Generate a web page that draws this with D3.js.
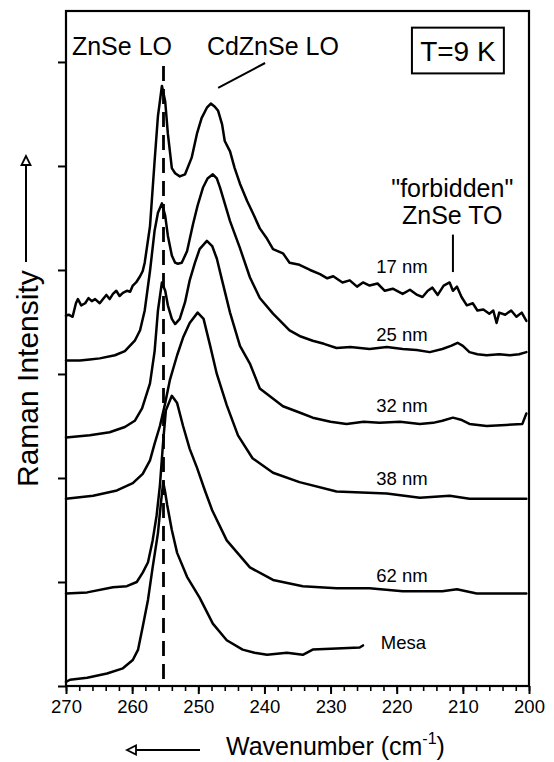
<!DOCTYPE html>
<html><head><meta charset="utf-8">
<script src="https://cdn.jsdelivr.net/npm/d3@7"></script>
<style>
body{margin:0;background:#fff}
svg{display:block;background:#fff}
text{font-family:"Liberation Sans",Arial,Helvetica,sans-serif;fill:#000}
</style>
</head><body>
<svg id="c" width="554" height="762"></svg>
<script>
// ---- data: [wavenumber (cm-1), Raman intensity (arb. units, offset)] ----
const s17 = [[270.0,3.56],[269.6,3.57],[269.0,3.55],[268.5,3.68],[268.2,3.72],[267.7,3.66],[267.1,3.68],[266.6,3.73],[266.1,3.70],[265.6,3.72],[264.9,3.68],[264.4,3.72],[263.9,3.76],[263.4,3.72],[262.9,3.77],[262.4,3.80],[261.9,3.75],[261.4,3.78],[260.8,3.80],[260.3,3.79],[259.9,3.85],[259.4,3.88],[258.8,3.94],[258.4,3.99],[258.1,4.07],[257.3,4.42],[256.6,5.05],[256.1,5.48],[255.5,5.77],[255.0,5.62],[254.6,5.31],[254.0,4.98],[253.5,4.93],[252.8,4.90],[252.0,4.92],[251.0,5.08],[250.2,5.31],[249.5,5.46],[248.7,5.56],[248.1,5.60],[247.5,5.57],[247.0,5.53],[246.4,5.40],[246.0,5.24],[245.2,5.14],[244.5,4.98],[243.7,4.83],[242.6,4.66],[241.7,4.54],[240.7,4.40],[239.6,4.30],[238.7,4.20],[237.2,4.16],[236.2,4.07],[234.7,4.05],[233.1,4.00],[231.6,3.96],[230.5,3.92],[229.6,3.94],[228.2,3.88],[227.1,3.90],[226.0,3.84],[225.1,3.88],[224.1,3.85],[222.9,3.87],[221.8,3.80],[220.6,3.82],[219.1,3.77],[218.0,3.81],[216.9,3.76],[216.1,3.74],[215.3,3.80],[214.6,3.83],[213.8,3.76],[212.9,3.85],[212.0,3.88],[211.5,3.80],[210.9,3.84],[210.2,3.74],[209.4,3.66],[208.5,3.68],[207.8,3.61],[206.9,3.62],[206.0,3.58],[205.4,3.61],[204.9,3.49],[204.5,3.59],[203.6,3.57],[202.7,3.61],[201.9,3.55],[201.1,3.59],[200.4,3.51]];
const s25 = [[270.0,3.13],[267.9,3.13],[266.4,3.14],[264.9,3.15],[262.6,3.18],[261.1,3.22],[259.6,3.32],[258.8,3.42],[258.1,3.61],[257.3,3.99],[256.6,4.38],[256.1,4.55],[255.5,4.64],[255.0,4.52],[254.6,4.33],[254.0,4.14],[253.5,4.07],[253.1,4.06],[252.5,4.07],[251.7,4.18],[250.8,4.44],[250.1,4.62],[249.3,4.79],[248.6,4.88],[247.8,4.92],[247.2,4.88],[246.7,4.79],[246.0,4.64],[245.2,4.47],[243.7,4.21],[242.2,3.93],[240.7,3.73],[238.7,3.58],[236.2,3.42],[234.5,3.36],[232.7,3.32],[231.0,3.29],[229.1,3.25],[227.0,3.26],[224.1,3.24],[221.5,3.26],[219.1,3.24],[217.0,3.23],[215.0,3.21],[213.1,3.24],[211.8,3.27],[210.8,3.30],[210.0,3.27],[209.0,3.21],[207.8,3.19],[206.4,3.18],[204.5,3.19],[202.9,3.18],[201.5,3.19],[200.4,3.21]];
const s32 = [[270.0,2.39],[266.4,2.41],[263.4,2.44],[261.1,2.49],[259.6,2.55],[258.5,2.67],[257.3,2.91],[256.6,3.22],[256.1,3.61],[255.5,3.88],[255.0,3.80],[254.6,3.66],[254.0,3.53],[253.5,3.48],[252.8,3.53],[252.0,3.69],[251.3,3.90],[250.5,4.07],[249.8,4.20],[248.7,4.28],[247.9,4.23],[247.2,4.11],[246.4,3.90],[245.2,3.59],[243.7,3.27],[242.2,3.10],[240.7,2.86],[237.2,2.69],[234.7,2.63],[232.7,2.58],[230.0,2.54],[227.6,2.52],[225.0,2.54],[222.6,2.53],[219.5,2.54],[216.5,2.52],[214.5,2.53],[213.1,2.55],[211.5,2.58],[210.3,2.56],[209.0,2.52],[206.4,2.50],[203.5,2.51],[201.0,2.52],[200.4,2.62]];
const s38 = [[270.0,1.80],[265.9,1.83],[262.3,1.88],[259.9,1.95],[258.4,2.04],[257.3,2.17],[256.6,2.33],[255.8,2.50],[255.0,2.72],[254.3,2.94],[253.2,3.18],[252.3,3.35],[251.3,3.49],[250.1,3.59],[249.2,3.53],[248.2,3.27],[247.2,3.00],[245.7,2.70],[244.0,2.41],[241.8,2.19],[238.7,2.05],[234.7,1.96],[229.1,1.87],[221.5,1.85],[216.5,1.81],[212.0,1.83],[209.0,1.80],[200.4,1.80]];
const s62 = [[270.0,0.89],[266.8,0.90],[262.9,0.95],[260.8,0.96],[259.3,1.00],[258.4,1.09],[257.6,1.19],[256.9,1.40],[256.3,1.64],[255.8,1.93],[255.3,2.36],[254.9,2.65],[254.0,2.79],[253.2,2.72],[252.3,2.50],[251.3,2.28],[250.2,2.10],[249.0,1.88],[247.9,1.69],[245.7,1.40],[242.2,1.14],[238.7,1.02],[234.2,0.96],[229.1,0.94],[224.1,0.94],[219.1,0.91],[213.1,0.91],[210.9,0.93],[207.9,0.89],[200.4,0.89]];
const sMesa = [[270.0,0.04],[269.4,0.06],[266.8,0.08],[263.8,0.12],[261.4,0.17],[259.9,0.25],[259.1,0.35],[258.4,0.57],[257.6,0.83],[256.9,1.14],[256.1,1.47],[255.6,1.79],[255.3,1.96],[255.0,1.86],[254.7,1.74],[254.0,1.50],[253.2,1.28],[251.7,1.05],[249.8,0.85],[247.8,0.60],[245.7,0.44],[243.3,0.35],[241.5,0.32],[239.6,0.30],[236.6,0.32],[234.2,0.30],[232.7,0.35],[229.1,0.36],[225.6,0.37],[225.1,0.39]];
const seriesLabels = ["17 nm","25 nm","32 nm","38 nm","62 nm","Mesa"];
const xTickValues = [270,260,250,240,230,220,210,200];
const xMinorValues = d3.range(270,199,-2);
const yTickValues = [0,1,2,3,4,5,6];
const znseLO = 255.26;
const znseTO = 211.5;

// ---- drawing ----
const svg = d3.select("#c");
const x = d3.scaleLinear().domain([270,200]).range([66,529]);
const y = d3.scaleLinear().domain([0,6.49]).range([686,11]);
const font = '"Liberation Sans",Arial,Helvetica,sans-serif';

// minor ticks
svg.append("g").attr("transform",`translate(0,${y(0)})`)
  .call(d3.axisBottom(x).tickValues(xMinorValues).tickSize(5).tickSizeOuter(0).tickFormat(""))
  .call(g=>g.select(".domain").remove())
  .call(g=>g.selectAll("line").attr("stroke-width",1.6));
// major ticks
const xa = svg.append("g").attr("transform",`translate(0,${y(0)})`)
  .call(d3.axisBottom(x).tickValues(xTickValues).tickSize(8).tickSizeOuter(0).tickFormat(d3.format("d")));
xa.select(".domain").remove();
xa.selectAll("line").attr("stroke-width",2);
xa.selectAll("text").attr("y",27).attr("dy",0).attr("font-size","18.5px").attr("font-family",font).attr("fill","#000");

const ya = svg.append("g").attr("transform",`translate(${x(270)},0)`)
  .call(d3.axisLeft(y).tickValues(yTickValues).tickSize(8).tickSizeOuter(0).tickFormat(""));
ya.select(".domain").remove();
ya.selectAll("line").attr("stroke-width",2);

// frame
svg.append("rect").attr("x",x(270)).attr("y",y(6.49)).attr("width",x(200)-x(270)).attr("height",y(0)-y(6.49))
  .attr("fill","none").attr("stroke","#000").attr("stroke-width",2.2);

// ZnSe LO dashed line
svg.append("line").attr("x1",x(znseLO)).attr("x2",x(znseLO)).attr("y1",y(5.96)).attr("y2",y(0))
  .attr("stroke","#000").attr("stroke-width",2.8).attr("stroke-dasharray","15,8");

// spectra
const line = d3.line().x(d=>x(d[0])).y(d=>y(d[1]));
const allSeries = [s17,s25,s32,s38,s62,sMesa];
svg.append("g").selectAll("path").data(allSeries).join("path")
  .attr("d",line).attr("fill","none").attr("stroke","#000").attr("stroke-width",2.5)
  .attr("stroke-linejoin","round").attr("stroke-linecap","round");

// series labels
const labelPos = [[223.1,3.97],[223.1,3.32],[223.1,2.63],[223.1,1.93],[223.1,1.00],[222.4,0.36]];
svg.append("g").selectAll("text").data(seriesLabels).join("text")
  .attr("x",(d,i)=>x(labelPos[i][0])).attr("y",(d,i)=>y(labelPos[i][1]))
  .attr("font-size","18.5px").text(d=>d);

// annotations
svg.append("text").attr("x",x(269.1)).attr("y",y(6.07)).attr("font-size","25px").text("ZnSe LO");
svg.append("text").attr("x",x(248.7)).attr("y",y(6.07)).attr("font-size","25px").text("CdZnSe LO");
svg.append("line").attr("x1",x(239.9)).attr("y1",y(5.99)).attr("x2",x(247.0)).attr("y2",y(5.75))
  .attr("stroke","#000").attr("stroke-width",2);
svg.append("rect").attr("x",x(217.7)).attr("y",y(6.33)).attr("width",x(203.8)-x(217.7)).attr("height",y(5.89)-y(6.33))
  .attr("fill","none").attr("stroke","#000").attr("stroke-width",2);
svg.append("text").attr("x",(x(217.7)+x(203.8))/2).attr("y",y(6.01)).attr("text-anchor","middle").attr("font-size","28px").text("T=9 K");
svg.append("text").attr("x",x(211.6)).attr("y",y(4.70)).attr("text-anchor","middle").attr("font-size","25px").text('"forbidden"');
svg.append("text").attr("x",x(211.6)).attr("y",y(4.44)).attr("text-anchor","middle").attr("font-size","25px").text("ZnSe TO");
svg.append("line").attr("x1",x(znseTO)).attr("x2",x(znseTO)).attr("y1",y(4.34)).attr("y2",y(3.98))
  .attr("stroke","#000").attr("stroke-width",2);

// y axis title with arrow
svg.append("text").attr("transform","translate(37.5,487) rotate(-90)").attr("font-size","30px").text("Raman Intensity");
svg.append("line").attr("x1",26).attr("x2",26).attr("y1",262).attr("y2",164).attr("stroke","#000").attr("stroke-width",2);
svg.append("path").attr("d","M26,156 L21.5,165 L30.5,165 Z").attr("fill","#fff").attr("stroke","#000").attr("stroke-width",1.8);

// x axis title with arrow
const xt = svg.append("text").attr("x",226).attr("y",755).attr("font-size","25px");
xt.append("tspan").text("Wavenumber (cm");
xt.append("tspan").attr("font-size","16px").attr("dy",-11).text("-1");
xt.append("tspan").attr("dy",11).text(")");
svg.append("line").attr("x1",200).attr("x2",135).attr("y1",750).attr("y2",750).attr("stroke","#000").attr("stroke-width",2);
svg.append("path").attr("d","M127,750 L136,745.5 L136,754.5 Z").attr("fill","#fff").attr("stroke","#000").attr("stroke-width",1.8);
</script>
</body></html>
